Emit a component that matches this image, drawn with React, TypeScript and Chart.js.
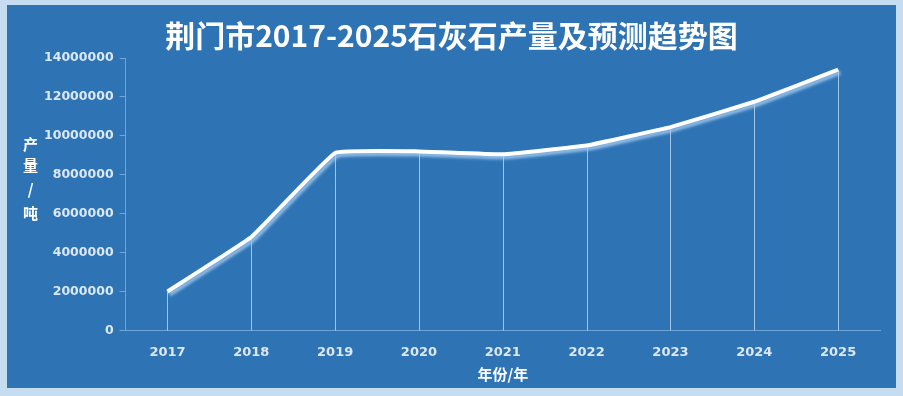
import React, { useEffect, useRef } from "react";
import { Chart, registerables } from "chart.js";

Chart.register(...registerables);

const years = ["2017", "2018", "2019", "2020", "2021", "2022", "2023", "2024", "2025"];
const output = [2000000, 4800000, 9120000, 9200000, 9050000, 9500000, 10450000, 11750000, 13400000];
const yTitleChars = ["产", "量", "/", "吨"];
const titleText = "荆门市2017-2025石灰石产量及预测趋势图";
const xTitleText = "年份/年";

const PANEL = "#2e74b5";
const OUTER = "#c6dcf0";
const AXIS = "#6ea6dc";
const TICK_TEXT = "#dce8f4";

const bgPlugin = {
  id: "bgPanel",
  beforeDraw(chart: any) {
    const { ctx, width, height } = chart;
    ctx.save();
    ctx.fillStyle = OUTER;
    ctx.fillRect(0, 0, width, height);
    ctx.fillStyle = PANEL;
    ctx.fillRect(7, 5, width - 14, height - 13);
    ctx.restore();
  },
};

const dropAndShadow = {
  id: "dropAndShadow",
  beforeDatasetsDraw(chart: any) {
    const { ctx, chartArea } = chart;
    const meta = chart.getDatasetMeta(0);
    ctx.save();
    ctx.strokeStyle = "rgba(205,225,245,0.75)";
    ctx.lineWidth = 1;
    meta.data.forEach((pt: any) => {
      const x = Math.round(pt.x) + 0.5;
      ctx.beginPath();
      ctx.moveTo(x, pt.y);
      ctx.lineTo(x, chartArea.bottom);
      ctx.stroke();
    });
    ctx.restore();
    ctx.save();
    ctx.shadowColor = "rgba(160,200,240,0.9)";
    ctx.shadowOffsetX = 2;
    ctx.shadowOffsetY = 3;
    ctx.shadowBlur = 3;
  },
  afterDatasetsDraw(chart: any) {
    chart.ctx.restore();
  },
};

const textPlugin = {
  id: "texts",
  afterDraw(chart: any) {
    const { ctx, chartArea, width } = chart;
    ctx.save();
    ctx.fillStyle = "#ffffff";
    ctx.textAlign = "center";
    ctx.textBaseline = "middle";
    // main title
    ctx.font = "bold 30px 'Noto Sans CJK SC'";
    ctx.fillText(titleText, width / 2, 36);
    // y title (stacked)
    ctx.font = "bold 15px 'Noto Sans CJK SC'";
    const x = chartArea.left - 95;
    const startY = chartArea.top + 86;
    const gaps = [0, 21, 45, 69];
    yTitleChars.forEach((c, i) => {
      ctx.fillText(c, x, startY + gaps[i]);
    });
    // x title
    ctx.fillText(xTitleText, (chartArea.left + chartArea.right) / 2, chartArea.bottom + 44);
    ctx.restore();
  },
};

export default function App() {
  const ref = useRef<HTMLCanvasElement>(null);
  useEffect(() => {
    const chart = new Chart(ref.current!, {
      type: "line",
      data: {
        labels: years,
        datasets: [
          {
            data: output,
            borderColor: "#ffffff",
            borderWidth: 4,
            pointRadius: 0,
            tension: 0.08,
            fill: false,
          },
        ],
      },
      options: {
        responsive: false,
        animation: false,
        layout: { padding: { left: 38, right: 23, top: 58, bottom: 22 } },
        plugins: {
          legend: { display: false },
          tooltip: { enabled: false },
          title: { display: false },
        },
        scales: {
          x: {
            offset: true,
            grid: { display: true, drawOnChartArea: false, drawTicks: false, color: "transparent" },
            border: { display: true, color: AXIS, width: 1 },
            ticks: {
              color: TICK_TEXT,
              font: { family: "'DejaVu Sans'", size: 13, weight: "bold" },
              padding: 14,
              maxRotation: 0,
            },
          },
          y: {
            min: 0,
            max: 14000000,
            grid: { display: true, drawOnChartArea: false, drawTicks: true, tickLength: 6, color: AXIS },
            border: { display: true, color: AXIS, width: 1 },
            ticks: {
              stepSize: 2000000,
              color: TICK_TEXT,
              font: { family: "'DejaVu Sans'", size: 12.5, weight: "bold" },
              padding: 6,
              callback: (v: any) => String(v),
            },
          },
        },
      },
      plugins: [bgPlugin, dropAndShadow, textPlugin],
    } as any);
    return () => chart.destroy();
  }, []);
  return (
    <div style={{ position: "fixed", left: 0, top: 0, width: 903, height: 396 }}>
      <canvas ref={ref} width={903} height={396} style={{ display: "block" }} />
    </div>
  );
}
